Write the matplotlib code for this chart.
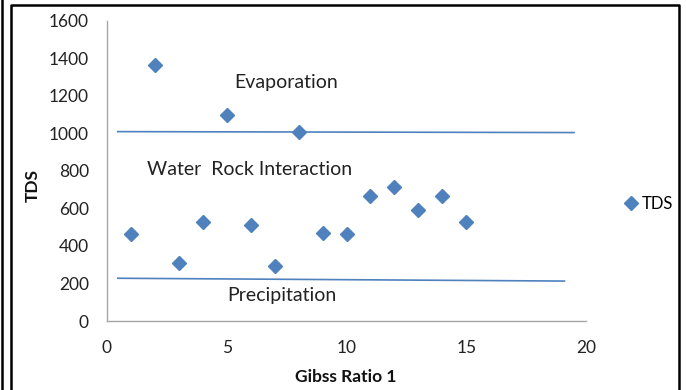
import matplotlib
matplotlib.use("Agg")
import matplotlib.pyplot as plt
from matplotlib.lines import Line2D

plt.rcParams['font.family'] = ['Lato', 'DejaVu Sans']

# data
gibbs_ratio = [1, 2, 3, 4, 5, 6, 7, 8, 9, 10, 11, 12, 13, 14, 15]
tds = [465, 1365, 311, 528, 1100, 514, 292, 1008, 471, 464, 668, 716, 592, 668, 528]

evap_x = [0.45, 19.5]
evap_y = [1010, 1005]
precip_x = [0.45, 19.1]
precip_y = [228, 213]

x_ticks = [0, 5, 10, 15, 20]
y_ticks = [0, 200, 400, 600, 800, 1000, 1200, 1400, 1600]

blue = '#4F81BD'
grey = '#A6A6A6'

fig = plt.figure(figsize=(6.86, 3.90), dpi=100)
ax = fig.add_axes([107/686, 1-321/390, (586-107)/686, (321-21)/390])

ax.plot(evap_x, evap_y, color=blue, lw=1.2)
ax.plot(precip_x, precip_y, color=blue, lw=1.2)
ax.plot(gibbs_ratio, tds, linestyle='none', marker='D', markersize=6.8,
        color=blue, label='TDS')

ax.set_xlim(0, 20)
ax.set_ylim(0, 1600)
ax.set_xticks(x_ticks)
ax.set_yticks(y_ticks)
ax.tick_params(length=0, labelsize=12.5, colors='#222222')
ax.tick_params(axis='y', pad=13)
ax.tick_params(axis='x', pad=14)
for s in ['top', 'right']:
    ax.spines[s].set_visible(False)
for s in ['left', 'bottom']:
    ax.spines[s].set_color(grey)
    ax.spines[s].set_linewidth(1.0)

ax.text(7.49, 1270, 'Evaporation', fontsize=14, ha='center', va='center', color='#222222')
ax.text(5.95, 806, 'Water  Rock Interaction', fontsize=14, ha='center', va='center', color='#222222')
ax.text(7.31, 134, 'Precipitation', fontsize=14, ha='center', va='center', color='#222222')

fig.text(33/686, 1-185/390, 'TDS', rotation=90, fontsize=12.5, fontweight='bold',
         ha='center', va='center', color='#111111')
fig.text(346/686, 1-377/390, 'Gibss Ratio 1', fontsize=12.5, fontweight='bold',
         ha='center', va='center', color='#111111')

handle = Line2D([], [], linestyle='none', marker='D', markersize=6.8, color=blue)
fig.legend([handle], ['TDS'], loc='center left', bbox_to_anchor=(624/686, 1-204/390),
           frameon=False, fontsize=12, handlelength=0.8, handletextpad=0.25,
           borderaxespad=0, borderpad=0)

# outer frame
fig.add_artist(Line2D([1.5/686, 1.5/686], [0, 1], transform=fig.transFigure,
                      color='black', lw=1.8))
fig.add_artist(Line2D([11/686, 11/686, 679/686, 679/686], [0, 1-4.5/390, 1-4.5/390, 0],
                      transform=fig.transFigure, color='black', lw=1.8))

fig.savefig('out.png', dpi=100)
